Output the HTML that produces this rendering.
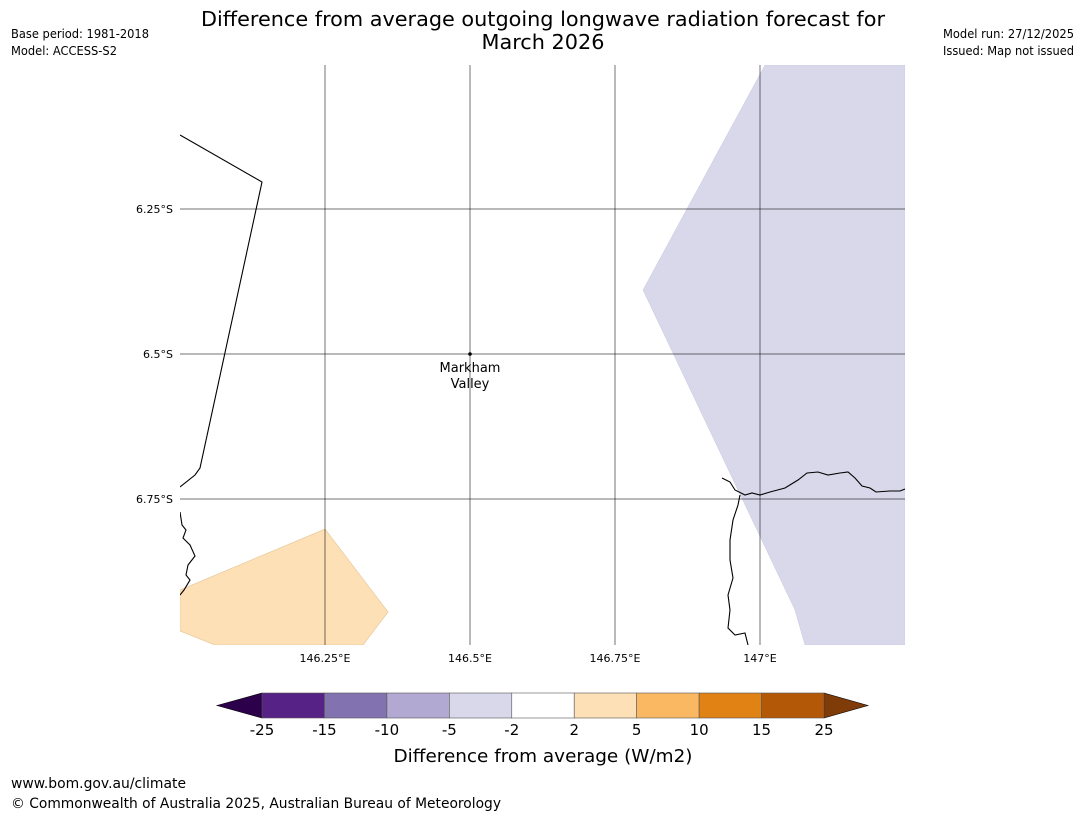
<!DOCTYPE html>
<html><head><meta charset="utf-8"><style>
body{margin:0;background:#fff;font-family:"Liberation Sans","DejaVu Sans",sans-serif;}
svg text{font-family:"DejaVu Sans","Liberation Sans",sans-serif;}
</style></head><body>
<svg width="1085" height="816" viewBox="0 0 1085 816" xmlns="http://www.w3.org/2000/svg">
<text x="543" y="26" font-size="20" text-anchor="middle" textLength="684" lengthAdjust="spacingAndGlyphs">Difference from average outgoing longwave radiation forecast for</text>
<text x="543" y="49" font-size="20" text-anchor="middle" textLength="123" lengthAdjust="spacingAndGlyphs">March 2026</text>
<text x="11" y="38" font-size="12" textLength="138" lengthAdjust="spacingAndGlyphs">Base period: 1981-2018</text>
<text x="11" y="55" font-size="12" textLength="106" lengthAdjust="spacingAndGlyphs">Model: ACCESS-S2</text>
<text x="943" y="38" font-size="12" textLength="131" lengthAdjust="spacingAndGlyphs">Model run: 27/12/2025</text>
<text x="943" y="55" font-size="12" textLength="131" lengthAdjust="spacingAndGlyphs">Issued: Map not issued</text>

<g>
<clipPath id="mc"><rect x="180" y="65" width="725" height="580"/></clipPath>
<g clip-path="url(#mc)">
<polygon points="765,65 905,65 905,645 805,645 795,610 643,290" fill="#d8d8ea" stroke="#c8c8e0" stroke-width="0.5"/>
<polygon points="180,590 325,529 388,612 363,645 215,645 180,631" fill="#fde0b6" stroke="#e8c89a" stroke-width="0.7"/>
<g stroke="#000" stroke-opacity="0.55" stroke-width="1">
<line x1="325" y1="65" x2="325" y2="645"/><line x1="470" y1="65" x2="470" y2="645"/><line x1="615" y1="65" x2="615" y2="645"/><line x1="760" y1="65" x2="760" y2="645"/>
<line x1="180" y1="209" x2="905" y2="209"/><line x1="180" y1="354" x2="905" y2="354"/><line x1="180" y1="499" x2="905" y2="499"/>
</g>
<g fill="none" stroke="#000" stroke-width="1.1">
<polyline points="180,135 262,182 200,468 195,475 180,487"/>
<polyline points="180,512 182,525 186,530 183,538 190,545 195,556 188,565 186,575 190,580 184,590 180,595"/>
<polyline points="722,478 730,482 735,490 745,495 752,493 760,495 770,492 785,488 798,480 807,473 818,472 828,475 840,473 848,472 855,478 862,486 870,488 876,492 890,491 900,491 905,489"/>
<polyline points="740,495 738,505 733,520 730,540 730,560 733,578 728,595 730,610 728,628 735,635 745,633 748,645"/>
</g>
</g>
<circle cx="470" cy="354" r="1.8" fill="#000"/>
<text x="470" y="372" font-size="13" text-anchor="middle">Markham</text>
<text x="470" y="388" font-size="13" text-anchor="middle">Valley</text>
<g font-size="11" text-anchor="end">
<text x="173" y="213">6.25°S</text><text x="173" y="358">6.5°S</text><text x="173" y="503">6.75°S</text>
</g>
<g font-size="11" text-anchor="middle">
<text x="325" y="662">146.25°E</text><text x="470" y="662">146.5°E</text><text x="615" y="662">146.75°E</text><text x="760" y="662">147°E</text>
</g>
</g>

<g id="cbar"></g>
<text x="543" y="762" font-size="18" text-anchor="middle" textLength="299" lengthAdjust="spacingAndGlyphs">Difference from average (W/m2)</text>
<text x="11" y="788" font-size="14" textLength="175" lengthAdjust="spacingAndGlyphs">www.bom.gov.au/climate</text>
<text x="11" y="808" font-size="14" textLength="490" lengthAdjust="spacingAndGlyphs">© Commonwealth of Australia 2025, Australian Bureau of Meteorology</text>
</svg>
<script>
const cbColors=["#562285","#8273b0","#b1a9d1","#d8d8ea","#ffffff","#fde0b6","#fbb862","#e08214","#b35806"];
const cbTicks=["-25","-15","-10","-5","-2","2","5","10","15","25"];
const cbUnder="#2d004b", cbOver="#7f3b08";
const ns="http://www.w3.org/2000/svg";
const g=document.getElementById('cbar');
const x0=262,x1=824,y0=693,h=25,w=(x1-x0)/cbColors.length;
function el(t,a){const e=document.createElementNS(ns,t);for(const k in a)e.setAttribute(k,a[k]);g.appendChild(e);return e;}
const lt=el('polygon',{points:`${x0},${y0} ${x0},${y0+h} 217,${y0+h/2}`,fill:cbUnder,stroke:'#000','stroke-width':0.6});


const rt=el('polygon',{points:`${x1},${y0} ${x1},${y0+h} 868,${y0+h/2}`,fill:cbOver,stroke:'#000','stroke-width':0.6});


cbColors.forEach((c,i)=>{
  const r=el('rect',{x:x0+i*w,y:y0,width:w,height:h,fill:c,stroke:'#555','stroke-width':0.6});
  
  
});
cbTicks.forEach((t,i)=>{
  const tx=el('text',{x:x0+i*w,y:735,'font-size':15,'text-anchor':'middle'});
  tx.textContent=t;
  
  
});
</script>
</body></html>
